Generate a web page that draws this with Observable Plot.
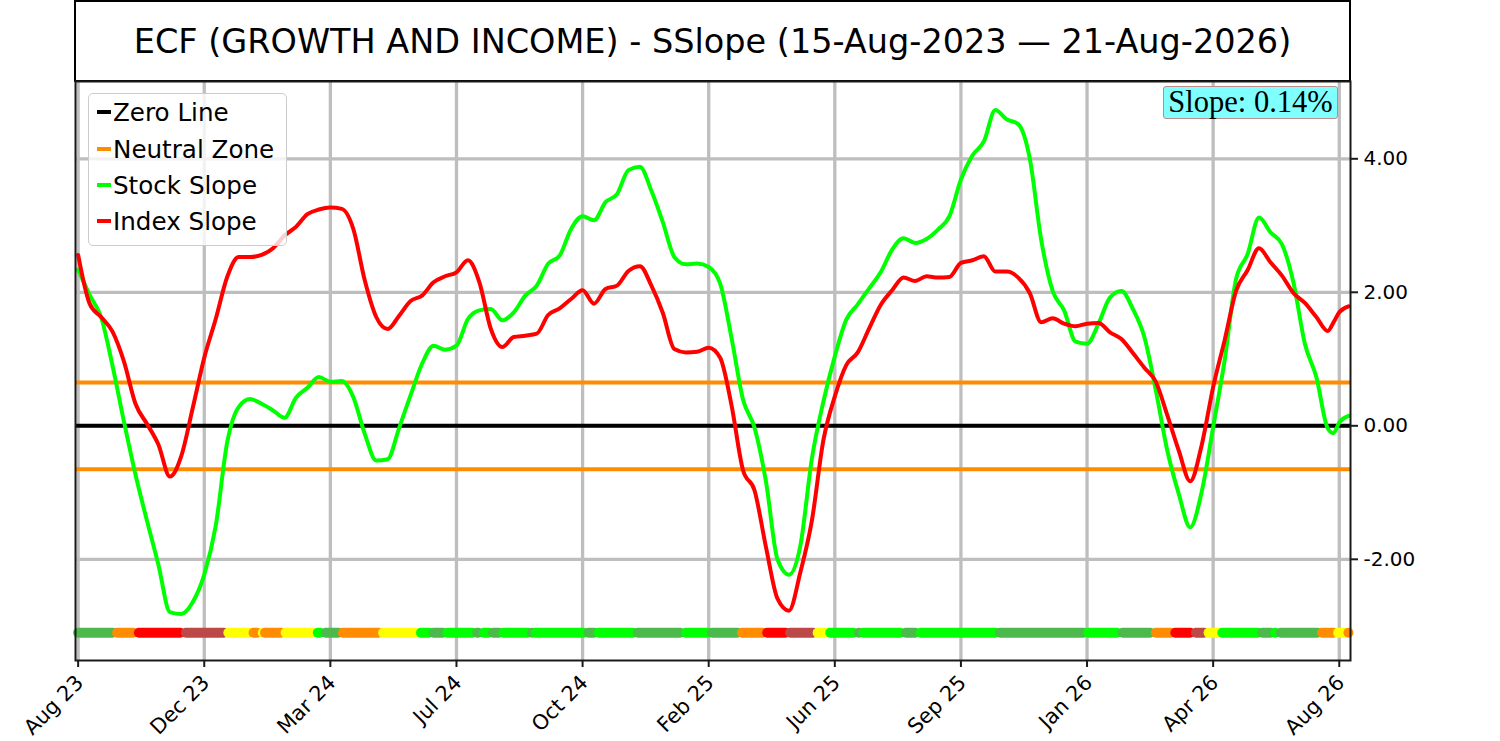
<!DOCTYPE html>
<html>
<head>
<meta charset="utf-8">
<script src="https://cdn.jsdelivr.net/npm/d3@7"></script>
<script src="https://cdn.jsdelivr.net/npm/@observablehq/plot@0.6"></script>
<style>
  body { margin: 0; background: #fff; font-family: "DejaVu Sans", sans-serif; }
  #wrap { position: relative; width: 1500px; height: 741px; overflow: hidden; background: #fff; }
  #title { position: absolute; left: 74px; top: 0; width: 1277px; height: 82px; box-sizing: border-box;
           border: 2px solid #000; display: flex; align-items: center; justify-content: center;
           font-size: 33.5px; color: #000; white-space: nowrap; }
  #chart { position: absolute; left: 0; top: 81px; }
  #legend { position: absolute; left: 88px; top: 93px; width: 199px; height: 153px; box-sizing: border-box;
            border: 1.5px solid #cccccc; border-radius: 5px; background: rgba(255,255,255,0.8); }
  .row { position: absolute; left: 8px; height: 30px; display: flex; align-items: center; font-size: 24.6px; color: #000; white-space: nowrap; }
  .sw { width: 14px; height: 4px; margin-right: 2px; }
  #slope { position: absolute; left: 1163px; top: 86px; width: 175px; height: 33px; box-sizing: border-box;
           background: #80ffff; border: 1.5px solid #c08a8a; border-radius: 3px;
           font-family: "Liberation Serif", serif; font-size: 30.5px; line-height: 30px; text-align: center; color: #000; }
</style>
</head>
<body>
<div id="wrap">
  <div id="title"></div>
  <div id="chart"></div>
  <div id="legend"></div>
  <div id="slope"></div>
</div>
<script>
// ---- Data ----
const titleText = "ECF (GROWTH AND INCOME) - SSlope (15-Aug-2023 \u2014 21-Aug-2026)";
const slopeLabel = "Slope: 0.14%";

// days since 15-Aug-2023
const days = [0,10,20,30,40,50,60,70,80,90,100,110,120,130,140,150,160,170,180,190,
  200,210,220,230,240,250,260,270,280,290,300,310,320,330,340,350,360,370,380,390,
  400,410,420,430,440,450,460,470,480,490,500,510,520,530,540,550,560,570,580,590,
  600,610,620,630,640,650,660,670,680,690,700,710,720,730,740,750,760,770,780,790,
  800,810,820,830,840,850,860,870,880,890,900,910,920,930,940,950,960,970,980,990,
  1000,1010,1020,1030,1040,1050,1060,1070,1080,1090,1095,1100,1108];

const stockSlope = [2.34,1.96,1.63,0.90,0.06,-0.73,-1.42,-2.08,-2.79,-2.82,
  -2.64,-2.23,-1.50,-0.25,0.28,0.40,0.33,0.23,0.12,0.42,
  0.57,0.73,0.66,0.67,0.43,-0.12,-0.52,-0.50,-0.03,0.46,
  0.93,1.20,1.14,1.20,1.60,1.73,1.75,1.58,1.70,1.95,
  2.10,2.43,2.55,2.95,3.14,3.08,3.35,3.47,3.83,3.88,
  3.52,3.05,2.53,2.42,2.43,2.38,2.13,1.31,0.39,-0.03,
  -0.84,-2.00,-2.23,-1.79,-0.49,0.36,1.04,1.59,1.82,2.06,
  2.30,2.64,2.81,2.74,2.80,2.94,3.14,3.69,4.05,4.26,
  4.73,4.59,4.52,4.01,2.79,2.02,1.73,1.26,1.23,1.53,
  1.92,2.02,1.75,1.33,0.53,-0.37,-1.02,-1.52,-0.99,-0.02,
  0.98,2.20,2.57,3.12,2.90,2.72,2.15,1.23,0.73,-0.04,
  -0.11,0.05,0.15];

const indexSlope = [2.56,1.83,1.63,1.41,0.96,0.33,0.03,-0.28,-0.76,-0.45,
  0.27,1.02,1.60,2.23,2.53,2.53,2.56,2.66,2.85,2.98,
  3.17,3.24,3.27,3.25,2.95,2.18,1.63,1.45,1.65,1.87,
  1.95,2.15,2.24,2.30,2.48,2.15,1.45,1.18,1.33,1.35,
  1.38,1.66,1.76,1.90,2.03,1.83,2.05,2.10,2.32,2.39,
  2.10,1.69,1.15,1.10,1.11,1.17,1.02,0.30,-0.67,-0.97,
  -1.82,-2.59,-2.77,-2.19,-1.42,-0.22,0.44,0.91,1.10,1.46,
  1.81,2.03,2.22,2.17,2.24,2.22,2.23,2.44,2.48,2.54,
  2.31,2.31,2.22,1.99,1.55,1.61,1.53,1.49,1.53,1.54,
  1.40,1.30,1.09,0.87,0.66,0.16,-0.37,-0.83,-0.29,0.58,
  1.28,2.02,2.33,2.66,2.45,2.25,1.99,1.84,1.63,1.42,
  1.55,1.70,1.79];

const zeroLevel = 0;
const neutralZone = 0.65;
const stripLevel = -3.1;

// Daily status strip, as runs (first day, last day, status)
const stripStart = [0,34,53,94,131,153,161,163,181,209,216,231,266,299,310,322,348,354,362,371,
  396,399,445,454,488,530,553,579,601,621,645,656,681,685,722,735,804,881,911,940,
  957,975,986,998,1033,1044,1049,1085,1099,1108];
const stripEnd = [30,48,89,127,149,156,161,177,204,211,227,262,294,306,318,344,349,358,367,392,
  396,441,450,484,525,549,575,597,617,641,652,676,681,717,730,800,877,906,935,953,
  970,982,994,1029,1040,1044,1081,1095,1104,1108];
const stripState = ["up","neutral","down","weak","flat","neutral","flat","neutral","flat","strong",
  "up","neutral","flat","strong","up","strong","up","strong","up","strong",
  "up","strong","up","strong","up","strong","up","neutral","down","weak",
  "flat","strong","up","strong","up","strong","up","strong","up","neutral",
  "down","weak","flat","strong","up","strong","up","neutral","flat","neutral"];
const stateNames = ["strong","up","flat","neutral","down","weak"];
const stateColors = ["#00ff00","#4bb94b","#ffff00","#ff8c00","#ff0000","#bc4848"];

const tickDays = [0,110,220,330,440,550,660,770,880,990,1100];
const tickLabels = ["Aug 23","Dec 23","Mar 24","Jul 24","Oct 24","Feb 25","Jun 25","Sep 25","Jan 26","Apr 26","Aug 26"];
const yTicks = [-2,0,2,4];

const legendItems = ["Zero Line","Neutral Zone","Stock Slope","Index Slope"];
const legendColors = ["#000000","#ff8c00","#00ff00","#ff0000"];

// ---- Build ----
const stockData = days.map((d, i) => ({day: d, v: stockSlope[i]}));
const indexData = days.map((d, i) => ({day: d, v: indexSlope[i]}));
const strip = stripStart.map((s, i) => ({start: s, end: stripEnd[i], state: stripState[i]}));
const xTicks = tickDays.map((d, i) => ({day: d, label: tickLabels[i]}));

document.getElementById("title").textContent = titleText;
document.getElementById("slope").textContent = slopeLabel;

const legend = document.getElementById("legend");
const rowTops = [3, 40, 76, 112];
legendItems.forEach((name, i) => {
  const row = document.createElement("div");
  row.className = "row";
  row.style.top = rowTops[i] + "px";
  const sw = document.createElement("span");
  sw.className = "sw";
  sw.style.background = legendColors[i];
  const t = document.createElement("span");
  t.textContent = name;
  row.appendChild(sw); row.appendChild(t);
  legend.appendChild(row);
});

const fmtY = d => d3.format(".2f")(d).replace("\u2212", "-");
const gridColor = "#bebebe";
const chart = Plot.plot({
  width: 1500,
  height: 660,
  marginLeft: 75,
  marginRight: 150,
  marginTop: 0,
  marginBottom: 81,
  x: {type: "linear", domain: [-2.3, 1109.8], label: null},
  y: {domain: [-3.516, 5.158], label: null},
  color: {domain: stateNames, range: stateColors},
  style: {fontFamily: "DejaVu Sans", fontSize: "20px", color: "#000", background: "transparent", overflow: "visible"},
  marks: [
    Plot.gridX(tickDays, {stroke: gridColor, strokeOpacity: 1, strokeWidth: 3.3}),
    Plot.gridY(yTicks, {stroke: gridColor, strokeOpacity: 1, strokeWidth: 3.3}),
    Plot.ruleY([neutralZone, -neutralZone], {stroke: "#ff8c00", strokeWidth: 4}),
    Plot.ruleY([zeroLevel], {stroke: "#000", strokeWidth: 4}),
    Plot.link(strip, {x1: "start", x2: "end", y1: () => stripLevel, y2: () => stripLevel,
      stroke: "state", strokeWidth: 10, strokeLinecap: "round"}),
    Plot.line(stockData, {x: "day", y: "v", stroke: "#00ff00", strokeWidth: 4, curve: "monotone-x", clip: true}),
    Plot.line(indexData, {x: "day", y: "v", stroke: "#ff0000", strokeWidth: 4, curve: "monotone-x", clip: true}),
    Plot.frame({stroke: "#1a1a1a", strokeWidth: 2}),
    Plot.axisX(tickDays, {tickFormat: () => "", tickSize: 7, stroke: "#1a1a1a", strokeWidth: 2, label: null}),
    Plot.text(xTicks, {x: "day", text: "label", frameAnchor: "bottom", rotate: -45, textAnchor: "end",
      lineAnchor: "top", dx: -4, dy: 13, fontSize: 20.8, fill: "#000"}),
    Plot.axisY(yTicks, {anchor: "right", tickFormat: fmtY, tickSize: 7, tickPadding: 6,
      fontSize: 20, stroke: "#1a1a1a", strokeWidth: 2, label: null})
  ]
});
document.getElementById("chart").appendChild(chart);
</script>
</body>
</html>
